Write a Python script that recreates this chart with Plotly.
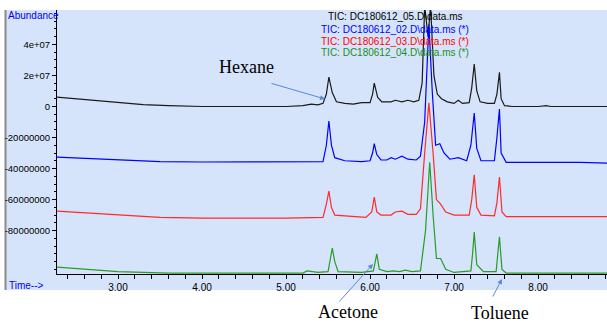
import plotly.graph_objects as go

# ---------------- data ----------------
t_05 = [2.27, 2.5, 2.8, 3.0, 3.3, 3.6, 4.0, 5.0, 5.2, 5.3, 5.38, 5.44, 5.48, 5.51, 5.55, 5.6, 5.7, 5.8,
        5.9, 6.0, 6.03, 6.05, 6.09, 6.14, 6.25, 6.3, 6.38, 6.45, 6.52, 6.58, 6.62, 6.65, 6.69, 6.72,
        6.76, 6.8, 6.85, 6.92, 7.0, 7.05, 7.1, 7.18, 7.21, 7.24, 7.27, 7.31, 7.4, 7.48, 7.51, 7.54,
        7.56, 7.6, 7.7, 8.0, 8.1, 8.15, 8.82]
v_05 = [6.1e6, 5.0e6, 3.3e6, 2.4e6, 1.2e6, 0.5e6, 0, 0, 0.5e6, 1.5e6, 1.0e6, 2.0e6, 8e6, 1.9e7, 9e6, 3e6,
        2e6, 1.5e6, 2.5e6, 2.5e6, 8e6, 1.5e7, 6e6, 3e6, 3.0e6, 4e6, 3.0e6, 4e6, 3e6, 4e6, 1.5e7, 6.5e7,
        4.5e7, 6.5e7, 2e7, 8e6, 5e6, 3e6, 2e6, 4e6, 2e6, 2.5e6, 1.2e7, 2.74e7, 1.0e7, 3e6, 2e6, 2e6,
        8e6, 2.2e7, 5e6, 0.5e6, 0, 0, 5e5, 0, 0]

t_02 = [2.27, 2.6, 3.0, 3.5, 4.0, 5.0, 5.44, 5.48, 5.51, 5.54, 5.58, 5.7, 5.9, 6.0, 6.03, 6.05, 6.08,
        6.13, 6.2, 6.25, 6.3, 6.38, 6.45, 6.55, 6.6, 6.65, 6.7, 6.74, 6.78, 6.83, 6.88, 6.95, 7.05,
        7.15, 7.2, 7.24, 7.27, 7.32, 7.48, 7.51, 7.54, 7.56, 7.62, 8.5, 8.82]
v_02 = [-3.26e7, -3.35e7, -3.45e7, -3.55e7, -3.58e7, -3.58e7, -3.55e7, -2.5e7, -9.4e6, -2.5e7, -3.3e7,
        -3.5e7, -3.55e7, -3.5e7, -3.0e7, -2.4e7, -3.1e7, -3.45e7, -3.45e7, -3.3e7, -3.4e7, -3.2e7,
        -3.4e7, -3.45e7, -3.2e7, -1.0e7, 5.3e7, 1.0e7, -2.5e7, -2.4e7, -3.0e7, -3.4e7, -3.3e7, -3.5e7,
        -2.5e7, -4.2e6, -2.7e7, -3.5e7, -3.5e7, -2.0e7, -1.6e6, -3.0e7, -3.6e7, -3.6e7, -3.65e7]

t_03 = [2.27, 2.6, 3.0, 3.5, 4.0, 5.0, 5.44, 5.48, 5.51, 5.54, 5.58, 5.7, 5.8, 5.95, 6.02, 6.05, 6.08,
        6.13, 6.25, 6.3, 6.38, 6.45, 6.55, 6.6, 6.65, 6.7, 6.75, 6.79, 6.84, 6.9, 7.0, 7.18, 7.21,
        7.24, 7.27, 7.32, 7.48, 7.51, 7.54, 7.57, 7.62, 8.82]
v_03 = [-6.74e7, -6.85e7, -7.0e7, -7.15e7, -7.2e7, -7.2e7, -7.15e7, -6.3e7, -5.45e7, -6.5e7, -7.0e7,
        -7.05e7, -7.1e7, -7.15e7, -6.8e7, -5.85e7, -6.8e7, -7.0e7, -7.0e7, -6.8e7, -6.75e7, -6.95e7,
        -6.95e7, -6.6e7, -3.0e7, 2.3e6, -3.0e7, -6.0e7, -6.3e7, -6.8e7, -7.0e7, -7.0e7, -6.0e7,
        -4.4e7, -6.5e7, -7.0e7, -7.05e7, -6.2e7, -4.55e7, -6.8e7, -7.1e7, -7.1e7]

t_04 = [2.27, 2.6, 3.0, 3.6, 5.2, 5.25, 5.3, 5.38, 5.5, 5.52, 5.55, 5.58, 5.62, 5.9, 6.04, 6.08, 6.11,
        6.2, 6.28, 6.35, 6.42, 6.5, 6.6, 6.66, 6.71, 6.75, 6.79, 6.84, 6.9, 7.0, 7.2, 7.22, 7.24,
        7.27, 7.35, 7.5, 7.52, 7.54, 7.57, 7.62, 8.82]
v_04 = [-1.035e8, -1.05e8, -1.065e8, -1.074e8, -1.074e8, -1.06e8, -1.065e8, -1.07e8, -1.065e8, -1.0e8,
        -9.13e7, -1.0e8, -1.065e8, -1.07e8, -1.06e8, -9.5e7, -1.05e8, -1.065e8, -1.06e8, -1.065e8,
        -1.055e8, -1.065e8, -1.06e8, -8.0e7, -3.6e7, -7.0e7, -9.8e7, -9.8e7, -1.05e8, -1.07e8,
        -1.06e8, -9.5e7, -8.1e7, -1.02e8, -1.065e8, -1.065e8, -9.5e7, -8.4e7, -1.05e8, -1.074e8,
        -1.074e8]

series_names = ["TIC: DC180612_05.D\\data.ms", "TIC: DC180612_02.D\\data.ms (*)",
                "TIC: DC180612_03.D\\data.ms (*)", "TIC: DC180612_04.D\\data.ms (*)"]
series_colors = ["#1a1a1a", "#0000ff", "#ff2a2a", "#2a9a2a"]
label_colors = ["#000000", "#0000ff", "#ff0000", "#1a8f1a"]

y_tick_vals = [4e7, 2e7, 0, -2e7, -4e7, -6e7, -8e7]
y_tick_text = ["4e+07", "2e+07", "0", "-20000000", "-40000000", "-60000000", "-80000000"]
x_tick_vals = [3, 4, 5, 6, 7, 8]
x_tick_text = ["3.00", "4.00", "5.00", "6.00", "7.00", "8.00"]

# ---------------- figure ----------------
fig = go.Figure()
for t, v, c, n in zip([t_05, t_02, t_03, t_04], [v_05, v_02, v_03, v_04], series_colors, series_names):
    fig.add_trace(go.Scatter(x=t, y=v, mode="lines", name=n,
                             line=dict(color=c, width=1.2), hoverinfo="skip"))

W, H = 607, 323
ml, mr, mt, mb = 57, 0, 10, 49
pw, ph = W - ml - mr, H - mt - mb

def px(x):
    return (x - ml) / pw

def py(y):
    return (H - mb - y) / ph

BG = "#d5e4fa"
fig.update_layout(
    width=W, height=H,
    margin=dict(l=ml, r=mr, t=mt, b=mb, pad=0),
    paper_bgcolor="white", plot_bgcolor=BG,
    showlegend=False,
    font=dict(family="Liberation Sans, Arial, sans-serif", size=10, color="black"),
    shapes=[
        dict(type="rect", xref="paper", yref="paper", x0=px(5), x1=1.0, y0=py(290), y1=1.0,
             fillcolor=BG, line=dict(width=0), layer="below"),
        dict(type="line", xref="paper", yref="paper", x0=px(5.5), x1=px(5.5), y0=py(290), y1=1.0,
             line=dict(color="#8a8a8a", width=2), layer="below"),
    ],
)

fig.update_xaxes(
    range=[2.274, 8.82], showgrid=False, zeroline=False,
    showline=True, linecolor="black", linewidth=1,
    tickmode="array", tickvals=x_tick_vals, ticktext=x_tick_text,
    ticks="outside", ticklen=4, tickcolor="black", tickwidth=1,
    tickfont=dict(size=10, color="black"),
    minor=dict(dtick=0.2, tick0=0, ticks="outside", ticklen=4, tickcolor="black", tickwidth=1),
)
fig.update_yaxes(
    range=[-1.08e8, 6.22e7], showgrid=False, zeroline=False,
    showline=True, linecolor="black", linewidth=1,
    tickmode="array", tickvals=y_tick_vals, ticktext=y_tick_text,
    ticks="outside", ticklen=4, tickcolor="black", tickwidth=1,
    tickfont=dict(size=9.5, color="black"),
    minor=dict(dtick=5e6, tick0=0, ticks="outside", ticklen=2, tickcolor="black", tickwidth=1),
)

ann = []
# series labels
for i, (n, c) in enumerate(zip(series_names, label_colors)):
    ann.append(dict(text=n, xref="paper", yref="paper", x=px(395), y=py([17, 29.5, 41.5, 53][i]),
                    showarrow=False, xanchor="center", yanchor="middle",
                    font=dict(size=10, color=c, family="Liberation Sans, Arial, sans-serif")))
ann.append(dict(text="Abundance", xref="paper", yref="paper", x=px(6), y=py(16), showarrow=False,
                xanchor="left", yanchor="middle", font=dict(size=10, color="#0000ff")))
ann.append(dict(text="Time-->", xref="paper", yref="paper", x=px(7), y=py(285), showarrow=False,
                xanchor="left", yanchor="middle", font=dict(size=10, color="#0000ff")))

serif = dict(family="Liberation Serif, Times New Roman, serif", size=18, color="black")
ann.append(dict(text="Hexane", xref="paper", yref="paper", x=px(246), y=py(67), showarrow=False,
                xanchor="center", yanchor="middle", font=serif))
ann.append(dict(text="Acetone", xref="paper", yref="paper", x=px(348), y=py(312), showarrow=False,
                xanchor="center", yanchor="middle", font=serif))
ann.append(dict(text="Toluene", xref="paper", yref="paper", x=px(500), y=py(313), showarrow=False,
                xanchor="center", yanchor="middle", font=serif))

arrow_color = "#5a8ad0"
for (hx, hy, tx, ty) in [(325, 99, 270, 83), (373, 264, 338, 303), (502, 279, 492, 298)]:
    ann.append(dict(text="", xref="paper", yref="paper", x=px(hx), y=py(hy),
                    ax=tx - hx, ay=ty - hy, showarrow=True, arrowhead=2, arrowsize=1,
                    arrowwidth=1, arrowcolor=arrow_color, standoff=0, startstandoff=0))
fig.update_layout(annotations=ann)

fig.write_html("out.html", config={"displayModeBar": False},
               post_script="document.body.style.margin='0';document.body.style.overflow='hidden';")
